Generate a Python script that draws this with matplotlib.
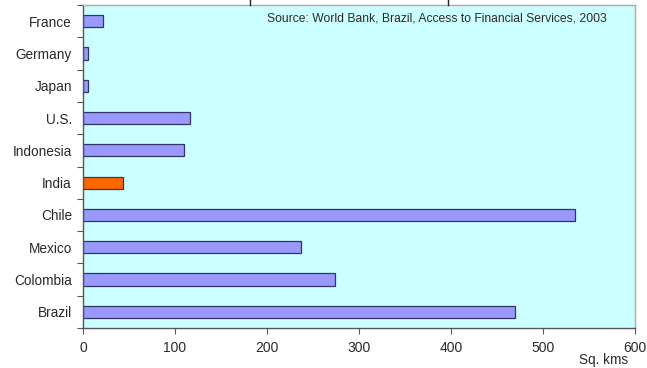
import matplotlib.pyplot as plt
import numpy as np

plt.rcParams['font.family'] = ['Liberation Sans', 'DejaVu Sans']

# data (top to bottom)
countries = ["France", "Germany", "Japan", "U.S.", "Indonesia",
             "India", "Chile", "Mexico", "Colombia", "Brazil"]
area_sq_kms = [22, 5, 5, 116, 110, 44, 535, 237, 274, 470]
highlight = "India"
x_ticks = [0, 100, 200, 300, 400, 500, 600]

W, H = 647, 368
fig = plt.figure(figsize=(W / 100, H / 100), dpi=100)
ax = fig.add_axes([83 / W, (H - 328) / H, (635 - 83) / W, (328 - 5) / H])
ax.set_facecolor("#CCFFFF")

colors = ["#FF6600" if c == highlight else "#9999FF" for c in countries]
pos = np.arange(len(countries))
ax.barh(pos, area_sq_kms, height=0.38, color=colors,
        edgecolor="#333366", linewidth=0.9)

ax.set_xlim(0, 600)
ax.set_ylim(len(countries) - 0.5, -0.5)

# category axis: tick marks between categories, labels at centres
ax.set_yticks(np.arange(-0.5, len(countries), 1.0))
ax.set_yticklabels([])
ax.set_yticks(pos, minor=True)
ax.set_yticklabels(countries, minor=True)
ax.tick_params(axis="y", which="major", direction="out", length=4,
               color="#555555")
ax.tick_params(axis="y", which="minor", length=0, pad=8,
               labelsize=9.8, labelcolor="#2a2a2a")

ax.set_xticks(x_ticks)
ax.set_xticklabels([str(v) for v in x_ticks])
ax.tick_params(axis="x", direction="out", length=4, pad=5,
               labelsize=10, labelcolor="#2a2a2a", color="#555555")

for side in ["left", "bottom"]:
    ax.spines[side].set_color("#555555")
    ax.spines[side].set_linewidth(1.0)
for side in ["top", "right"]:
    ax.spines[side].set_color("#AAAAAA")
    ax.spines[side].set_linewidth(1.0)

ax.text(0.949, 0.958, "Source: World Bank, Brazil, Access to Financial Services, 2003",
        transform=ax.transAxes, ha="right", va="center",
        fontsize=8.7, color="#2a2a2a")

fig.text(628 / W, (H - 360) / H, "Sq. kms", ha="right", va="center",
         fontsize=9.8, color="#2a2a2a")

# small marks left over from the chart above
for xm in [250, 448]:
    fig.add_artist(plt.Line2D([xm / W, xm / W], [1.0, (H - 5) / H],
                              color="#222222", linewidth=1.0))

fig.savefig("out.png", dpi=100)
